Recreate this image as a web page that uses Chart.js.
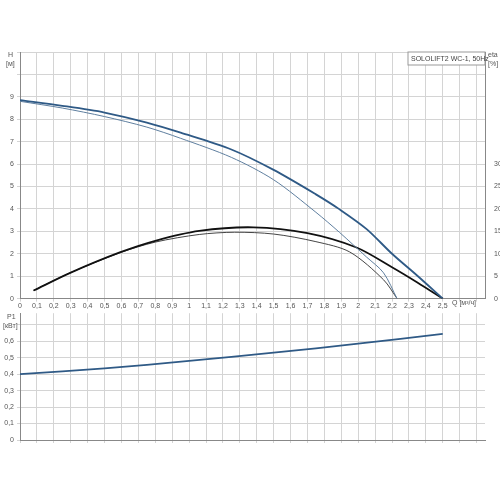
<!DOCTYPE html>
<html><head><meta charset="utf-8">
<script src="https://cdn.jsdelivr.net/npm/chart.js@4"></script>
<style>
body{margin:0;background:#fff;}
#top{position:absolute;left:0;top:0;}
#bot{position:absolute;left:0;top:306px;}
</style></head><body>
<canvas id="top" width="500" height="310"></canvas>
<canvas id="bot" width="500" height="150"></canvas>
<script>
// head curves H [m]
const hFullQ = [0, 0.25, 0.5, 0.75, 0.95, 1.25, 1.5, 1.75, 1.89, 2.05, 2.2, 2.35, 2.5];
const hFull = [8.85, 8.6, 8.3, 7.85, 7.4, 6.65, 5.74, 4.65, 3.98, 3.1, 2.0, 1.02, 0];
const hLowQ = [0, 0.25, 0.5, 0.75, 0.95, 1.25, 1.5, 1.75, 1.89, 2.05, 2.15, 2.23];
const hLow = [8.8, 8.5, 8.12, 7.65, 7.15, 6.3, 5.3, 3.85, 2.95, 1.85, 1.15, 0];
// efficiency eta [%]
const etaFullQ = [0.08, 0.3, 0.59, 0.8, 1.06, 1.38, 1.7, 1.99, 2.2, 2.35, 2.5];
const etaFull = [1.8, 5.8, 10.3, 12.9, 15.1, 15.9, 14.6, 11.4, 7.0, 3.6, 0];
const etaLowQ = [0.08, 0.3, 0.59, 0.8, 1.06, 1.27, 1.5, 1.75, 1.95, 2.15, 2.23];
const etaLow = [1.8, 5.8, 10.2, 12.6, 14.3, 14.8, 14.4, 12.7, 10.4, 4.2, 0];
// power P1 [kW]
const p1Q = [0, 0.5, 1.0, 1.5, 2.0, 2.5];
const p1 = [0.40, 0.435, 0.48, 0.53, 0.585, 0.645];

const font = { family: 'Arial, "Liberation Sans"', size: 7 };
const grid = '#d4d4d4';
const pts = (xs, ys) => xs.map((x, i) => ({ x, y: ys[i] }));
const comma = v => String(Math.round(v * 10) / 10).replace('.', ',');

function line(data, color, width, axis) {
    return { data, borderColor: color, borderWidth: width, pointRadius: 0,
             tension: 0.3, yAxisID: axis || 'y' };
}

const labels = {
    id: 'labels',
    afterDraw(c, args, opts) {
        const ctx = c.ctx;
        ctx.save();
        ctx.fillStyle = '#555';
        ctx.font = '7px Arial, "Liberation Sans"';
        opts.items.forEach(t => ctx.fillText(t[0], t[1], t[2]));
        if (opts.box) {
            const a = c.chartArea;
            ctx.fillStyle = '#fff';
            ctx.strokeStyle = '#999';
            ctx.fillRect(a.right - 77, a.top, 77, 13);
            ctx.strokeRect(a.right - 77, a.top, 77, 13);
            ctx.fillStyle = '#444';
            ctx.fillText(opts.box, a.right - 74, a.top + 9);
        }
        ctx.restore();
    }
};

new Chart(document.getElementById('top'), {
    type: 'line',
    data: { datasets: [
        line(pts(hFullQ, hFull), '#2f5a86', 1.8),
        line(pts(hLowQ, hLow), '#5f7f9f', 1),
        line(pts(etaFullQ, etaFull), '#111', 1.8, 'y2'),
        line(pts(etaLowQ, etaLow), '#444', 1, 'y2')
    ]},
    options: {
        responsive: false, animation: false,
        layout: { padding: { top: 52, right: 0, left: 0, bottom: 0 } },
        plugins: { legend: { display: false }, tooltip: { enabled: false },
            labels: { box: 'SOLOLIFT2 WC-1, 50Hz', items: [
                ['H', 8, 57], ['[м]', 6, 66], ['eta', 488, 57], ['[%]', 488, 66], ['Q [м³/ч]', 452, 305]
            ] } },
        scales: {
            x: { type: 'linear', min: 0, max: 2.75,
                 grid: { color: grid, tickLength: 3 }, border: { color: '#888' },
                 afterBuildTicks: s => { s.ticks = []; for (let i = 0; i <= 27; i++) s.ticks.push({ value: i / 10 }); },
                 ticks: { font, color: '#555', padding: 0, maxRotation: 0, autoSkip: false,
                          callback: v => v > 2.55 ? '' : comma(v) } },
            y: { min: 0, max: 11, afterFit: s => { s.width = 20; },
                 grid: { color: grid, tickLength: 3 }, border: { color: '#888' },
                 ticks: { font, color: '#555', stepSize: 1, padding: 3, callback: v => v > 9 ? '' : v } },
            y2: { position: 'right', min: 0, max: 55, afterFit: s => { s.width = 15; },
                  grid: { display: false }, border: { color: '#888' },
                  ticks: { font, color: '#555', stepSize: 5, padding: 1, callback: v => v > 30 ? '' : v } }
        }
    },
    plugins: [labels]
});

new Chart(document.getElementById('bot'), {
    type: 'line',
    data: { datasets: [ line(pts(p1Q, p1), '#2f5a86', 1.8) ] },
    options: {
        responsive: false, animation: false,
        layout: { padding: { top: 5, right: 15, left: 0, bottom: 0 } },
        plugins: { legend: { display: false }, tooltip: { enabled: false },
            labels: { items: [['P1', 7, 13], ['[кВт]', 3, 22]] } },
        scales: {
            x: { type: 'linear', min: 0, max: 2.75,
                 grid: { color: grid, tickLength: 3 }, border: { color: '#888' },
                 afterBuildTicks: s => { s.ticks = []; for (let i = 0; i <= 27; i++) s.ticks.push({ value: i / 10 }); },
                 ticks: { display: false }, afterFit: s => { s.height = 16; } },
            y: { min: 0, max: 0.77, afterFit: s => { s.width = 20; },
                 grid: { color: grid, tickLength: 3 }, border: { color: '#888' },
                 afterBuildTicks: s => { s.ticks = []; for (let i = 0; i <= 7; i++) s.ticks.push({ value: i / 10 }); },
                 ticks: { font, color: '#555', padding: 3, callback: v => v > 0.65 ? '' : (v === 0 ? '0' : comma(v)) } }
        }
    },
    plugins: [labels]
});
</script>
</body></html>
